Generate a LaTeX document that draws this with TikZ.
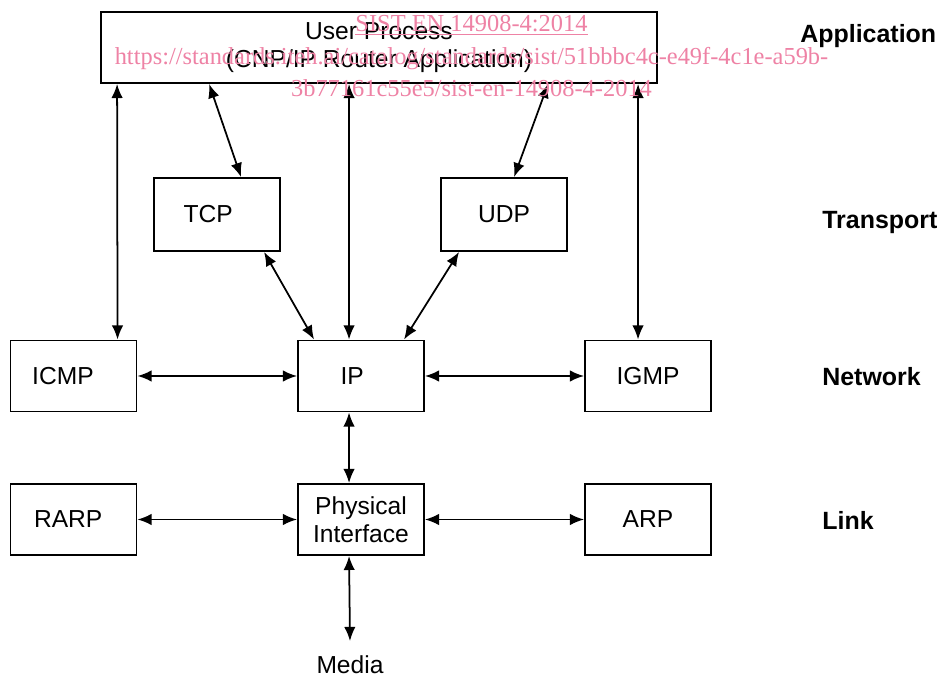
\documentclass[tikz,border=0pt]{standalone}
\usepackage{fontspec}
\setmainfont{Liberation Sans}
\newfontfamily\wmfont{Liberation Serif}
\usetikzlibrary{arrows.meta,calc}
\definecolor{wmpink}{RGB}{238,130,165}

\begin{document}
\begin{tikzpicture}[x=0.02cm,y=-0.02cm,font=\fontsize{14}{15.9}\selectfont]
	\path [use as bounding box] (0,0) rectangle (941,678);
	\tikzstyle{box} = [draw, line width=1.1pt, inner sep=0pt, minimum width=2.52cm, minimum height=1.42cm, align=center]
	\tikzstyle{layer} = [anchor=west, inner sep=0pt, font=\fontsize{14.2}{15.9}\selectfont\bfseries]
	\tikzstyle{link} = [{Latex[length=8pt,width=6.5pt]}-{Latex[length=8pt,width=6.5pt]}, line width=1pt]
	\tikzstyle{wmtext} = [text=wmpink, font=\fontsize{13.9}{18}\selectfont\wmfont, inner sep=0pt, anchor=base]
	% boxes
	\node[box, minimum width=11.12cm] (user) at (379,47.5) {User Process\\(CNP/IP Router Application)};
	\node[box, minimum height=1.46cm] (tcp) at (217,214.5) {TCP\hspace{10pt}};
	\node[box, minimum height=1.46cm] (udp) at (504,214.5) {UDP};
	\node[box] (icmp) at (73.5,376) {ICMP\hspace{12pt}};
	\node[box] (ip) at (361,376) {IP\hspace{10pt}};
	\node[box] (igmp) at (648,376) {IGMP};
	\node[box] (rarp) at (73.5,519.5) {RARP\hspace{6pt}};
	\node[box] (phy) at (361,519.5) {Physical\\Interface};
	\node[box] (arp) at (648,519.5) {ARP};
	\node[inner sep=1pt] (media) at (350,665) {Media};
	\coordinate (mediaend) at (350,641);
	% layers
	\node[layer] (app) at (800,36) {Application};
	\node[layer] (trans) at (822,223) {Transport};
	\node[layer] (net) at (822,377) {Network};
	\node[layer] (lnk) at (822,520) {Link};
	% connectors
	\draw[link] ($(user.south west)+(17,0)$) -- ($(icmp.north west)+(108,0)$);
	\draw[link] ($(user.south west)+(109,0)$) -- ($(tcp.north west)+(88,0)$);
	\draw[link] ($(user.south west)+(249,0)$) -- ($(ip.north west)+(52,0)$);
	\draw[link] ($(user.south west)+(448,0)$) -- ($(udp.north west)+(74,0)$);
	\draw[link] ($(user.south west)+(538,0)$) -- ($(igmp.north west)+(54,0)$);
	\draw[link] ($(tcp.south west)+(111,0)$) -- ($(ip.north west)+(17,0)$);
	\draw[link] ($(udp.south west)+(19,0)$) -- ($(ip.north west)+(107,0)$);
	\draw[link] (icmp.east) -- (ip.west);
	\draw[link] (ip.east) -- (igmp.west);
	\draw[link] ($(ip.south west)+(52,0)$) -- ($(phy.north west)+(52,0)$);
	\draw[link] (rarp.east) -- (phy.west);
	\draw[link] (phy.east) -- (arp.west);
	\draw[link] ($(phy.south west)+(52,0)$) -- (mediaend);
	% watermark
	\node[wmtext] (wmA) at (471.5,32) {\underline{SIST EN 14908-4:2014}};
	\node[wmtext] (wmB) at (471.5,65) {https://standards.iteh.ai/catalog/standards/sist/51bbbc4c-e49f-4c1e-a59b-};
	\node[wmtext] (wmC) at (471.5,97) {3b77161c55e5/sist-en-14908-4-2014};
\end{tikzpicture}
\end{document}
